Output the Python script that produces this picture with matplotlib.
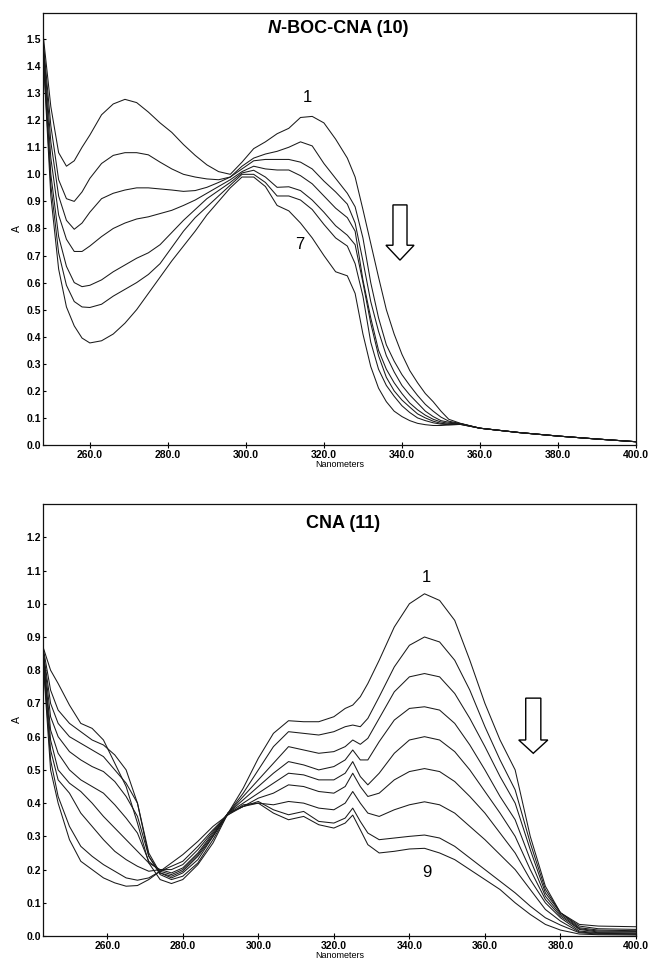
import matplotlib
matplotlib.use("Agg")
import matplotlib.pyplot as plt
from matplotlib.patches import FancyArrow
from matplotlib.ticker import FormatStrFormatter, MultipleLocator

plt.rcParams['font.family'] = ['Liberation Sans', 'DejaVu Sans']

# ---------------- N-BOC-CNA (10) ----------------
boc_nm = [248, 250, 252, 254, 256, 258, 260, 263, 266, 269, 272, 275, 278, 281, 284, 287, 290,
          293, 296, 299, 302, 305, 308, 311, 314, 317, 320, 323, 326, 328, 330, 332, 334, 336,
          338, 340, 342, 344, 346, 348, 350, 352, 355, 360, 370, 380, 390, 400]
boc_1 = [1.52, 1.25, 1.08, 1.03, 1.05, 1.10, 1.145, 1.22, 1.26, 1.277, 1.265, 1.23, 1.19, 1.155, 1.11, 1.07, 1.035,
         1.01, 1.0, 1.045, 1.095, 1.12, 1.15, 1.17, 1.21, 1.214, 1.19, 1.13, 1.06,
         0.99, 0.87, 0.745, 0.62, 0.50, 0.41, 0.335, 0.275, 0.23, 0.19, 0.16, 0.125, 0.095,
         0.08, 0.062, 0.046, 0.033, 0.022, 0.012]
boc_2 = [1.50, 1.18, 0.98, 0.91, 0.90, 0.935, 0.985, 1.04, 1.07, 1.08, 1.08, 1.072, 1.045, 1.02, 1.0, 0.99, 0.983,
         0.98, 0.99, 1.03, 1.06, 1.075, 1.085, 1.10, 1.12, 1.105, 1.04, 0.985, 0.93,
         0.88, 0.765, 0.60, 0.47, 0.37, 0.31, 0.26, 0.22, 0.183, 0.15, 0.125, 0.103, 0.088,
         0.079, 0.062, 0.046, 0.033, 0.022, 0.012]
boc_3 = [1.49, 1.12, 0.92, 0.83, 0.797, 0.82, 0.86, 0.91, 0.93, 0.942, 0.95, 0.95, 0.946, 0.942, 0.937, 0.94, 0.952,
         0.97, 0.99, 1.02, 1.05, 1.055, 1.055, 1.055, 1.045, 1.02, 0.975, 0.935, 0.89,
         0.82, 0.68, 0.53, 0.42, 0.33, 0.27, 0.22, 0.185, 0.155, 0.125, 0.105, 0.09, 0.084,
         0.079, 0.062, 0.046, 0.033, 0.022, 0.012]
boc_4 = [1.48, 1.06, 0.85, 0.76, 0.715, 0.715, 0.735, 0.77, 0.80, 0.82, 0.835, 0.843, 0.855, 0.867, 0.885, 0.905, 0.93,
         0.955, 0.98, 1.01, 1.03, 1.02, 1.016, 1.016, 0.995, 0.965, 0.92, 0.875, 0.84,
         0.79, 0.61, 0.47, 0.35, 0.28, 0.23, 0.19, 0.155, 0.13, 0.11, 0.095, 0.085, 0.08,
         0.078, 0.062, 0.046, 0.033, 0.022, 0.012]
boc_5 = [1.47, 1.00, 0.77, 0.66, 0.60, 0.585, 0.59, 0.61, 0.64, 0.665, 0.69, 0.71, 0.74, 0.785, 0.83, 0.87, 0.91,
         0.94, 0.97, 1.005, 1.015, 0.99, 0.952, 0.954, 0.94, 0.905, 0.86, 0.81, 0.775,
         0.74, 0.60, 0.45, 0.33, 0.25, 0.20, 0.166, 0.14, 0.115, 0.10, 0.088, 0.08, 0.077,
         0.077, 0.062, 0.046, 0.033, 0.022, 0.012]
boc_6 = [1.46, 0.96, 0.71, 0.59, 0.53, 0.51, 0.508, 0.52, 0.55, 0.575, 0.60, 0.63, 0.67, 0.73, 0.79, 0.84, 0.88,
         0.92, 0.96, 1.0, 1.0, 0.97, 0.92, 0.92, 0.905, 0.87, 0.815, 0.765, 0.735,
         0.67, 0.55, 0.38, 0.28, 0.22, 0.18, 0.145, 0.12, 0.10, 0.09, 0.082, 0.077, 0.075,
         0.076, 0.062, 0.046, 0.033, 0.022, 0.012]
boc_7 = [1.45, 0.92, 0.65, 0.51, 0.44, 0.395, 0.377, 0.385, 0.41, 0.45, 0.50, 0.56, 0.62, 0.68, 0.735, 0.79, 0.85,
         0.90, 0.95, 0.99, 0.99, 0.955, 0.885, 0.865, 0.82, 0.765, 0.70, 0.64, 0.625,
         0.56, 0.41, 0.29, 0.21, 0.16, 0.125, 0.105, 0.09, 0.08, 0.075, 0.072, 0.072, 0.074,
         0.076, 0.062, 0.046, 0.033, 0.022, 0.012]

# ---------------- CNA (11) ----------------
cna_nm = [243, 245, 247, 250, 253, 256, 259, 262, 265, 268, 271, 274, 277, 280, 284, 288, 292, 296, 300, 304,
          308, 312, 316, 320, 323, 325, 327, 329, 332, 336, 340, 344, 348, 352, 356, 360, 364, 368, 372, 376,
          380, 385, 390, 400]
cna_1 = [0.87, 0.80, 0.76, 0.695, 0.64, 0.625, 0.59, 0.52, 0.45, 0.34, 0.22, 0.17, 0.158, 0.17, 0.215, 0.28, 0.37,
         0.445, 0.535, 0.61, 0.648, 0.645, 0.645, 0.66, 0.685, 0.695, 0.72, 0.76, 0.83, 0.93, 1.00, 1.03, 1.01,
         0.95, 0.83, 0.70, 0.59, 0.50, 0.30, 0.15, 0.07, 0.035, 0.03, 0.028]
cna_2 = [0.87, 0.74, 0.68, 0.64, 0.615, 0.59, 0.575, 0.545, 0.50, 0.40, 0.24, 0.185, 0.17, 0.18, 0.22, 0.29, 0.37,
         0.43, 0.50, 0.57, 0.615, 0.61, 0.605, 0.615, 0.63, 0.635, 0.63, 0.655, 0.72, 0.81, 0.875, 0.90, 0.885,
         0.83, 0.74, 0.63, 0.53, 0.44, 0.28, 0.14, 0.07, 0.03, 0.022, 0.02]
cna_3 = [0.86, 0.70, 0.64, 0.60, 0.58, 0.56, 0.54, 0.50, 0.46, 0.40, 0.25, 0.19, 0.175, 0.19, 0.23, 0.30, 0.37,
         0.42, 0.47, 0.52, 0.57, 0.56, 0.55, 0.555, 0.57, 0.59, 0.577, 0.595, 0.655, 0.735, 0.78, 0.79, 0.78,
         0.73, 0.655, 0.57, 0.48, 0.40, 0.26, 0.13, 0.07, 0.025, 0.018, 0.016]
cna_4 = [0.86, 0.66, 0.60, 0.555, 0.53, 0.51, 0.495, 0.465, 0.42, 0.36, 0.24, 0.19, 0.18, 0.195, 0.24, 0.30, 0.37,
         0.41, 0.45, 0.49, 0.525, 0.515, 0.50, 0.51, 0.53, 0.56, 0.53, 0.53, 0.585, 0.65, 0.685, 0.69, 0.68,
         0.64, 0.575, 0.50, 0.42, 0.35, 0.23, 0.12, 0.065, 0.022, 0.015, 0.014]
cna_5 = [0.85, 0.62, 0.55, 0.50, 0.47, 0.45, 0.43, 0.395, 0.355, 0.31, 0.225, 0.195, 0.185, 0.20, 0.245, 0.305, 0.37,
         0.40, 0.43, 0.46, 0.49, 0.485, 0.47, 0.47, 0.49, 0.525, 0.48, 0.455, 0.49, 0.55, 0.59, 0.60, 0.59,
         0.555, 0.50, 0.435, 0.37, 0.30, 0.20, 0.11, 0.06, 0.02, 0.012, 0.012]
cna_6 = [0.85, 0.59, 0.50, 0.46, 0.435, 0.40, 0.36, 0.325, 0.29, 0.255, 0.22, 0.20, 0.19, 0.205, 0.25, 0.31, 0.37,
         0.39, 0.415, 0.43, 0.455, 0.45, 0.435, 0.43, 0.45, 0.49, 0.45, 0.42, 0.43, 0.47, 0.495, 0.504, 0.495,
         0.465, 0.42, 0.37, 0.31, 0.25, 0.17, 0.10, 0.055, 0.015, 0.01, 0.009]
cna_7 = [0.84, 0.56, 0.47, 0.43, 0.37, 0.33, 0.29, 0.255, 0.23, 0.21, 0.195, 0.20, 0.20, 0.215, 0.26, 0.315, 0.37,
         0.39, 0.40, 0.395, 0.405, 0.40, 0.385, 0.38, 0.40, 0.435, 0.40, 0.37, 0.36, 0.38, 0.395, 0.404, 0.395,
         0.37, 0.33, 0.29, 0.245, 0.20, 0.14, 0.08, 0.045, 0.012, 0.008, 0.007]
cna_8 = [0.84, 0.53, 0.42, 0.33, 0.27, 0.24, 0.215, 0.195, 0.175, 0.168, 0.175, 0.195, 0.21, 0.225, 0.27, 0.32, 0.365,
         0.39, 0.405, 0.38, 0.365, 0.375, 0.345, 0.34, 0.355, 0.385, 0.345, 0.31, 0.29, 0.295, 0.30, 0.304, 0.295,
         0.27, 0.235, 0.20, 0.165, 0.13, 0.09, 0.055, 0.033, 0.01, 0.006, 0.005]
cna_9 = [0.83, 0.50, 0.40, 0.29, 0.225, 0.20, 0.175, 0.16, 0.15, 0.152, 0.17, 0.195, 0.22, 0.245, 0.285, 0.33, 0.365,
         0.395, 0.40, 0.37, 0.35, 0.36, 0.335, 0.325, 0.34, 0.364, 0.32, 0.275, 0.25, 0.255, 0.262, 0.264, 0.25,
         0.23, 0.20, 0.17, 0.14, 0.10, 0.065, 0.035, 0.018, 0.006, 0.004, 0.003]

x_ticks = [260, 280, 300, 320, 340, 360, 380, 400]

LINE = dict(color='#1a1a1a', lw=0.75)


def style(ax, xlim, ylim, ymax_tick):
    ax.set_xlim(*xlim)
    ax.set_ylim(*ylim)
    ax.set_xticks(x_ticks)
    ax.yaxis.set_major_locator(MultipleLocator(0.1))
    ax.set_yticks([i / 10 for i in range(0, int(round(ymax_tick * 10)) + 1)])
    ax.xaxis.set_major_formatter(FormatStrFormatter('%.1f'))
    ax.yaxis.set_major_formatter(FormatStrFormatter('%.1f'))
    ax.tick_params(axis='x', direction='inout', length=5, width=0.8, labelsize=7.5, pad=1)
    ax.tick_params(axis='y', direction='in', length=2, width=0.8, labelsize=7.5, pad=1.5)
    for lab in ax.get_xticklabels() + ax.get_yticklabels():
        lab.set_fontweight('bold')
    for sp in ax.spines.values():
        sp.set_linewidth(0.9)
        sp.set_color('#111111')
    ax.set_xlabel('Nanometers', fontsize=6.5, labelpad=0)
    ax.set_ylabel('A', fontsize=7.5, labelpad=3)


fig = plt.figure(figsize=(6.48, 9.64), dpi=100)

# top panel
ax1 = fig.add_axes([0.0664, 0.5384, 0.9151, 0.4481])
for ys in [boc_1, boc_2, boc_3, boc_4, boc_5, boc_6, boc_7]:
    ax1.plot(boc_nm, ys, **LINE)
style(ax1, (248, 400), (0, 1.596), 1.5)
ax1.text(0.401, 0.965, 'N', transform=ax1.transAxes, ha='right', va='center',
         fontsize=13, fontweight='bold', fontstyle='italic')
ax1.text(0.401, 0.965, '-BOC-CNA (10)', transform=ax1.transAxes, ha='left', va='center',
         fontsize=13, fontweight='bold')
ax1.text(315.7, 1.285, '1', ha='center', va='center', fontsize=12)
ax1.text(313.9, 0.739, '7', ha='center', va='center', fontsize=12)
ax1.add_patch(FancyArrow(339.5, 0.887, 0, -0.204, width=3.6, head_width=7.2, head_length=0.055,
                         length_includes_head=True, fill=False, ec='black', lw=1.0))

# bottom panel
ax2 = fig.add_axes([0.0664, 0.0290, 0.9151, 0.4481])
for ys in [cna_1, cna_2, cna_3, cna_4, cna_5, cna_6, cna_7, cna_8, cna_9]:
    ax2.plot(cna_nm, ys, **LINE)
style(ax2, (243, 400), (0, 1.30), 1.2)
ax2.text(0.506, 0.956, 'CNA (11)', transform=ax2.transAxes, ha='center', va='center',
         fontsize=13, fontweight='bold')
ax2.text(344.6, 1.08, '1', ha='center', va='center', fontsize=12)
ax2.text(344.6, 0.19, '9', ha='center', va='center', fontsize=12)
ax2.add_patch(FancyArrow(372.8, 0.716, 0, -0.166, width=4.0, head_width=7.7, head_length=0.04,
                         length_includes_head=True, fill=False, ec='black', lw=1.0))

fig.savefig('out.png', dpi=100)
